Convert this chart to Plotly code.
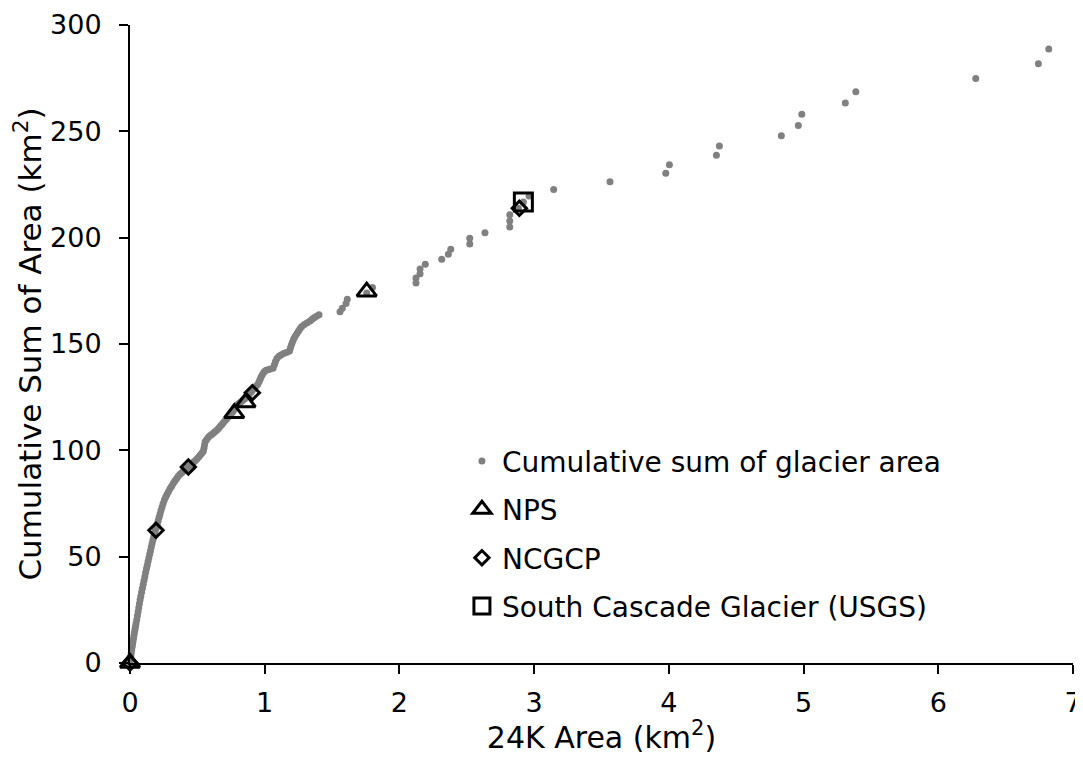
import plotly.graph_objects as go

# ---- Data ----
# Cumulative sum of glacier area (x = 24K area km2, y = cumulative sum km2)
glacier_x = [
    0.000, 0.003, 0.006, 0.009, 0.012, 0.015, 0.018, 0.021, 0.025, 0.029,
    0.033, 0.037, 0.041, 0.045, 0.050, 0.055, 0.060, 0.065, 0.070, 0.075,
    0.080, 0.086, 0.092, 0.098, 0.104, 0.110, 0.116, 0.122, 0.128, 0.134,
    0.140, 0.146, 0.152, 0.158, 0.164, 0.170, 0.176, 0.182, 0.188,
    0.195, 0.202, 0.209, 0.216, 0.223, 0.230, 0.238, 0.246, 0.255, 0.265,
    0.275, 0.286, 0.298, 0.310, 0.322, 0.334, 0.346, 0.358, 0.371, 0.384,
    0.397, 0.410, 0.422, 0.435, 0.448, 0.461, 0.473, 0.486, 0.498, 0.510,
    0.522, 0.534, 0.544, 0.549, 0.553, 0.558, 0.568, 0.580, 0.593, 0.607,
    0.620, 0.633, 0.646, 0.658, 0.670, 0.682, 0.694, 0.706, 0.718, 0.730,
    0.742, 0.754, 0.765, 0.775, 0.785, 0.795, 0.808, 0.822, 0.836, 0.850,
    0.862, 0.874, 0.886, 0.898,
    0.910, 0.922, 0.935, 0.948, 0.958, 0.966, 0.974, 0.984, 0.996, 1.010,
    1.025, 1.040, 1.062, 1.072, 1.080, 1.090, 1.105, 1.120, 1.140, 1.160,
    1.183, 1.190, 1.197, 1.205, 1.215, 1.225, 1.238, 1.250, 1.262, 1.275,
    1.294, 1.315, 1.336, 1.352, 1.366, 1.385, 1.403,
    1.559, 1.576, 1.604, 1.613, 1.757, 1.800, 2.123, 2.123, 2.153, 2.153,
    2.192, 2.314, 2.363, 2.381, 2.522, 2.522, 2.635, 2.819, 2.819, 2.819,
    2.883, 2.920, 2.962, 3.145, 3.563, 3.977, 4.004, 4.353, 4.375, 4.835,
    4.961, 4.987, 5.310, 5.388, 6.278, 6.743, 6.820,
]
glacier_y = [
    0.0, 1.5, 3.0, 4.5, 6.0, 7.4, 8.6, 9.8, 11.2, 12.8,
    14.3, 15.8, 17.2, 18.6, 20.3, 22.2, 24.1, 26.0, 27.9, 29.8,
    31.4, 33.3, 35.2, 37.0, 38.8, 40.6, 42.5, 44.3, 46.0, 47.7,
    49.4, 51.1, 52.8, 54.5, 56.2, 57.8, 59.4, 61.0, 62.4,
    63.5, 65.2, 66.9, 68.5, 70.1, 71.7, 73.3, 75.0, 76.6, 78.0,
    79.4, 80.7, 82.0, 83.2, 84.5, 85.7, 86.8, 87.8, 88.7, 89.5,
    90.3, 91.0, 91.7, 92.4, 93.1, 93.8, 94.5, 95.2, 96.0, 96.9,
    97.8, 98.7, 99.6, 101.0, 102.5, 104.0, 105.0, 106.0, 106.8, 107.5,
    108.2, 108.9, 109.6, 110.4, 111.3, 112.2, 113.1, 114.0, 114.9, 115.8,
    116.6, 117.4, 118.3, 119.3, 120.4, 121.3, 122.0, 122.7, 123.4, 124.1,
    124.9, 125.7, 126.5, 127.3,
    128.2, 129.2, 130.1, 131.0, 132.2, 133.4, 134.6, 135.8, 136.9, 137.6,
    137.9, 138.2, 138.6, 140.2, 141.8, 143.2, 144.2, 144.8, 145.5, 146.0,
    146.6, 148.0, 149.4, 150.8, 152.3, 153.5, 154.8, 156.0, 157.2, 158.2,
    159.2, 160.0, 160.8, 161.6, 162.3, 163.0, 163.7,
    165.2, 166.8, 169.1, 171.0, 174.0, 176.6, 178.7, 181.0, 183.0, 185.3,
    187.5, 189.8, 192.2, 194.5, 197.0, 199.7, 202.3, 205.0, 207.8, 210.8,
    213.8, 216.8, 219.6, 222.7, 226.3, 230.3, 234.3, 238.7, 243.1, 247.9,
    252.8, 258.0, 263.3, 268.6, 274.9, 281.8, 288.7,
]

nps_x = [0.0, 0.774, 0.858, 1.757]
nps_y = [0.0, 117.4, 122.5, 174.6]

ncgcp_x = [0.0, 0.193, 0.433, 0.908, 2.890]
ncgcp_y = [0.0, 62.4, 92.2, 127.1, 213.8]

usgs_x = [2.92]
usgs_y = [216.8]

x_ticks = [0, 1, 2, 3, 4, 5, 6, 7]
y_ticks = [0, 50, 100, 150, 200, 250, 300]

FONT = "DejaVu Sans"

fig = go.Figure()

fig.add_trace(go.Scatter(
    x=glacier_x, y=glacier_y, mode="markers",
    name="Cumulative sum of glacier area", legendgroup="g1",
    marker=dict(symbol="circle", size=7, color="#808080", line=dict(width=0)),
    cliponaxis=False,
))
fig.add_trace(go.Scatter(
    x=nps_x, y=nps_y, mode="markers", name="NPS", legendgroup="g2",
    marker=dict(symbol="triangle-up", size=17, color="rgba(0,0,0,0)",
                line=dict(color="black", width=3)),
    cliponaxis=False,
))
fig.add_trace(go.Scatter(
    x=ncgcp_x, y=ncgcp_y, mode="markers", name="NCGCP", legendgroup="g3",
    marker=dict(symbol="diamond", size=11, color="rgba(0,0,0,0)",
                line=dict(color="black", width=3)),
    cliponaxis=False,
))
fig.add_trace(go.Scatter(
    x=usgs_x, y=usgs_y, mode="markers", name="South Cascade Glacier (USGS)",
    legendgroup="g4",
    marker=dict(symbol="square", size=18, color="rgba(0,0,0,0)",
                line=dict(color="black", width=3)),
    cliponaxis=False,
))

fig.update_layout(
    width=1075, height=747,
    paper_bgcolor="white", plot_bgcolor="white",
    margin=dict(l=122, r=10, t=17, b=92),
    font=dict(family=FONT, size=28, color="black"),
    showlegend=True,
    legend=dict(
        x=0.352, xanchor="left", y=0.3555, yanchor="top",
        bgcolor="rgba(0,0,0,0)", borderwidth=0,
        font=dict(family=FONT, size=28, color="black"),
        traceorder="grouped", tracegroupgap=9,
        itemsizing="trace",
    ),
    xaxis=dict(
        range=[0, 7], tickvals=x_ticks, ticktext=[str(v) for v in x_ticks],
        showgrid=False, zeroline=False, automargin=False,
        showline=True, linecolor="black", linewidth=2,
        ticks="outside", ticklen=9, tickwidth=2, tickcolor="black",
        ticklabelstandoff=6, ticklabeloverflow="allow",
        tickfont=dict(family=FONT, size=27),
        title=dict(text="24K Area (km<sup>2</sup>)", font=dict(family=FONT, size=30),
                   standoff=5),
    ),
    yaxis=dict(
        range=[0, 300], tickvals=y_ticks, ticktext=[str(v) for v in y_ticks],
        showgrid=False, zeroline=False, automargin=False,
        showline=True, linecolor="black", linewidth=2,
        ticks="outside", ticklen=9, tickwidth=2, tickcolor="black",
        ticklabelstandoff=12,
        tickfont=dict(family=FONT, size=27),
        title=dict(text="Cumulative Sum of Area (km<sup>2</sup>)",
                   font=dict(family=FONT, size=31), standoff=6),
    ),
)

fig.write_html("out.html")
